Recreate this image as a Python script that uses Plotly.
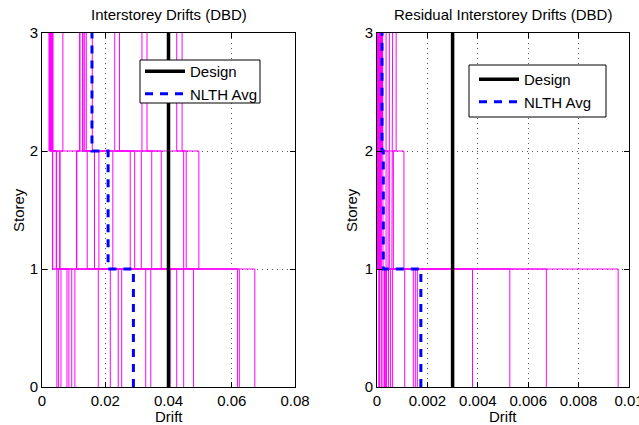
import plotly.graph_objects as go

# ---------------- data ----------------
storeys = [0, 1, 2, 3]

# Interstorey drifts (DBD) - one value per record for storey 1, 2, 3
idr_s1 = [0.0673, 0.0047, 0.0618, 0.0052, 0.0624, 0.0060, 0.0479, 0.0079, 0.0448, 0.0085,
          0.0426, 0.0094, 0.0405, 0.0104, 0.0344, 0.0178, 0.0328, 0.0216, 0.0252, 0.0241]
idr_s2 = [0.0033, 0.0496, 0.0456, 0.0034, 0.0448, 0.0045, 0.0377, 0.0046, 0.0347, 0.0056,
          0.0314, 0.0057, 0.0293, 0.0109, 0.0279, 0.0110, 0.0224, 0.0143, 0.0180, 0.0166]
idr_s3 = [0.0022, 0.0024, 0.0443, 0.0027, 0.0426, 0.0030, 0.0332, 0.0033, 0.0316, 0.0035,
          0.0245, 0.0066, 0.0230, 0.0119, 0.0159, 0.0120, 0.0140, 0.0128, 0.0135, 0.0130]
idr_design = [0.04, 0.04, 0.04]
idr_avg = [0.0289, 0.0209, 0.0158]

# Residual interstorey drifts (DBD)
res_s1 = [0.00957, 0.00007, 0.00672, 0.00010, 0.00527, 0.00017, 0.00379, 0.00020, 0.00160, 0.00028,
          0.00152, 0.00030, 0.00144, 0.00035, 0.00110, 0.00035, 0.00062, 0.00038, 0.00054, 0.00046]
res_s2 = [0.00001, 0.00107, 0.00065, 0.00002, 0.00059, 0.00004, 0.00049, 0.00005, 0.00044, 0.00006,
          0.00036, 0.00008, 0.00024, 0.00009, 0.00017, 0.00010, 0.00015, 0.00012, 0.00015, 0.00013]
res_s3 = [0.00001, 0.00001, 0.00076, 0.00003, 0.00062, 0.00004, 0.00049, 0.00005, 0.00036, 0.00007,
          0.00022, 0.00009, 0.00022, 0.00010, 0.00020, 0.00012, 0.00018, 0.00014, 0.00016, 0.00015]
res_design = [0.003, 0.003, 0.003]
res_avg = [0.00174, 0.00025, 0.00020]

x1_ticks = [0, 0.02, 0.04, 0.06, 0.08]
x1_text = ["0", "0.02", "0.04", "0.06", "0.08"]
x2_ticks = [0, 0.002, 0.004, 0.006, 0.008, 0.01]
x2_text = ["0", "0.002", "0.004", "0.006", "0.008", "0.01"]
y_ticks = [0, 1, 2, 3]

titles = ["Interstorey Drifts (DBD)", "Residual Interstorey Drifts (DBD)"]

# ---------------- layout helpers ----------------
W, H = 639, 425
MT, MB = 33, 38
PH = H - MT - MB
FONT = "Liberation Sans, Arial, Helvetica, sans-serif"
FS = 15


def pxx(x):
    return x / W


def pyy(y):
    return (H - MB - y) / PH


def stairs(vals):
    xs, ys = [], []
    for i, v in enumerate(vals):
        xs += [v, v]
        ys += [storeys[i], storeys[i + 1]]
    return xs, ys


fig = go.Figure()

panels = [
    (idr_s1, idr_s2, idr_s3, idr_design, idr_avg, "x", "y", "legend"),
    (res_s1, res_s2, res_s3, res_design, res_avg, "x2", "y2", "legend2"),
]

for s1, s2, s3, design, avg, xa, ya, lg in panels:
    for a, b, c in zip(s1, s2, s3):
        xs, ys = stairs([a, b, c])
        fig.add_trace(go.Scatter(x=xs, y=ys, mode="lines", xaxis=xa, yaxis=ya,
                                 line=dict(color="#FF00FF", width=1),
                                 showlegend=False, hoverinfo="skip"))
    xs, ys = stairs(design)
    fig.add_trace(go.Scatter(x=xs, y=ys, mode="lines", xaxis=xa, yaxis=ya, name="Design",
                             line=dict(color="black", width=3.5), legend=lg))
    xs, ys = stairs(avg)
    fig.add_trace(go.Scatter(x=xs, y=ys, mode="lines", xaxis=xa, yaxis=ya, name="NLTH Avg",
                             line=dict(color="#0000FF", width=3, dash="8px,7px"), legend=lg))

axis_common = dict(showline=True, linecolor="black", linewidth=1, mirror="ticks",
                   ticks="inside", ticklen=5, tickcolor="black", tickwidth=1,
                   showgrid=True, gridcolor="#555555", griddash="1px,4px", gridwidth=1,
                   zeroline=False, automargin=False, ticklabeloverflow="allow",
                   tickfont=dict(family=FONT, size=FS, color="black"))

fig.update_layout(
    template="none",
    width=W, height=H,
    margin=dict(l=0, r=0, t=MT, b=MB, pad=0),
    paper_bgcolor="white", plot_bgcolor="white",
    font=dict(family=FONT, size=FS, color="black"),
    xaxis=dict(domain=[pxx(42), pxx(295)], range=[0, 0.08], tickvals=x1_ticks, ticktext=x1_text,
               anchor="y", **axis_common),
    yaxis=dict(domain=[0, 1], range=[0, 3], tickvals=y_ticks, anchor="x", **axis_common),
    xaxis2=dict(domain=[pxx(377), pxx(629)], range=[0, 0.01], tickvals=x2_ticks, ticktext=x2_text,
                anchor="y2", **axis_common),
    yaxis2=dict(domain=[0, 1], range=[0, 3], tickvals=y_ticks, anchor="x2", **axis_common),
    legend=dict(x=pxx(140), y=pyy(55), xanchor="left", yanchor="top", bgcolor="rgba(0,0,0,0)",
                borderwidth=0, font=dict(family=FONT, size=FS, color="black"), itemwidth=40),
    legend2=dict(x=pxx(474), y=pyy(63), xanchor="left", yanchor="top", bgcolor="rgba(0,0,0,0)",
                 borderwidth=0, font=dict(family=FONT, size=FS, color="black"), itemwidth=40),
    shapes=[
        dict(type="rect", xref="paper", yref="paper", x0=pxx(140), x1=pxx(260), y0=pyy(103), y1=pyy(60),
             line=dict(color="black", width=1), fillcolor="white", layer="above"),
        dict(type="rect", xref="paper", yref="paper", x0=pxx(469), x1=pxx(606), y0=pyy(117), y1=pyy(65),
             line=dict(color="black", width=1), fillcolor="white", layer="above"),
    ],
    annotations=[
        dict(text=titles[0], xref="paper", yref="paper", x=pxx(169), y=1, xanchor="center",
             yanchor="middle", yshift=19, showarrow=False, font=dict(size=FS)),
        dict(text=titles[1], xref="paper", yref="paper", x=pxx(503), y=1, xanchor="center",
             yanchor="middle", yshift=19, showarrow=False, font=dict(size=FS)),
        dict(text="Storey", xref="paper", yref="paper", x=pxx(18), y=0.5, xanchor="center",
             yanchor="middle", textangle=-90, showarrow=False, font=dict(size=FS)),
        dict(text="Storey", xref="paper", yref="paper", x=pxx(351), y=0.5, xanchor="center",
             yanchor="middle", textangle=-90, showarrow=False, font=dict(size=FS)),
        dict(text="Drift", xref="paper", yref="paper", x=pxx(169), y=0, xanchor="center",
             yanchor="middle", yshift=-29, showarrow=False, font=dict(size=FS)),
        dict(text="Drift", xref="paper", yref="paper", x=pxx(503), y=0, xanchor="center",
             yanchor="middle", yshift=-29, showarrow=False, font=dict(size=FS)),
    ],
)

fig.write_html("out.html")
